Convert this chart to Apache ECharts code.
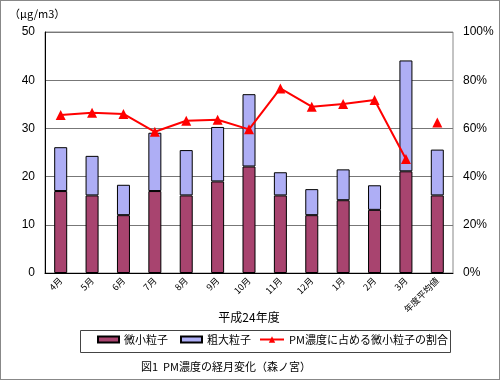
<!DOCTYPE html>
<html><head><meta charset="utf-8">
<script src="https://cdn.jsdelivr.net/npm/echarts@6/dist/echarts.min.js"></script>
<style>html,body{margin:0;padding:0;background:#fff}#c{width:500px;height:380px;box-sizing:border-box;border:1px solid #888}</style>
</head><body><div id="c"></div>
<script>
var categories = ['4月','5月','6月','7月','8月','9月','10月','11月','12月','1月','2月','3月','年度平均値'];
var fine = [17, 16.1, 12, 17, 16.1, 19, 22.1, 16.1, 12, 15.1, 13.1, 21.1, 16.1];
var total = [26.1, 24.3, 18.3, 29.1, 25.5, 30.3, 37.1, 20.9, 17.4, 21.5, 18.2, 44.1, 25.6];
var coarse = total.map(function(t,i){return +(t - fine[i]).toFixed(1);});
var ratioMonthly = [65.6, 66.5, 66.0, 58.6, 63.2, 63.6, 59.6, 76.6, 69.0, 70.1, 71.8, 47.3, '-'];
var ratioAvg = ['-','-','-','-','-','-','-','-','-','-','-','-', 62.5];
var leftTicks = {min:0, max:50, interval:10};
var rightTicks = {min:0, max:100, interval:20};
var seriesNames = ['微小粒子', '粗大粒子', 'PM濃度に占める微小粒子の割合'];

var F = '"Noto Sans CJK JP", "Liberation Sans", sans-serif';
var legendText = {fontSize:11, fontFamily:F, color:'#000'};
var chart = echarts.init(document.getElementById('c'));
chart.setOption({
  animation:false,
  textStyle:{fontFamily:F},
  grid:{left:44, right:46, top:31, bottom:106, show:true, borderColor:'#888', borderWidth:1},
  graphic:[
    {type:'text', left:8, top:7, style:{text:'（μg/m3）', font:'11px '+F, fill:'#000'}},
    {type:'text', left:140, top:360, style:{text:'図1  PM濃度の経月変化（森ノ宮）', font:'11px '+F, fill:'#000'}},
    {type:'rect', shape:{x:79.5, y:329.5, width:370, height:22}, style:{fill:'none', stroke:'#444', lineWidth:1}}
  ],
  legend:[
    {left:96, top:333, padding:0, itemWidth:21, itemHeight:6, textStyle:legendText,
     data:[{name:seriesNames[0], icon:'rect'}]},
    {left:179, top:333, padding:0, itemWidth:21, itemHeight:6, textStyle:legendText,
     data:[{name:seriesNames[1], icon:'rect'}]},
    {left:258, top:333, padding:0, itemWidth:24, itemHeight:8, textStyle:legendText,
     data:[{name:seriesNames[2]}]}
  ],
  xAxis:{
    type:'category', data:categories,
    name:'平成24年度', nameLocation:'middle', nameGap:38, nameMoveOverlap:false,
    nameTextStyle:{fontSize:12, color:'#000', fontFamily:F},
    axisLine:{lineStyle:{color:'#000'}},
    axisTick:{inside:true, length:3, lineStyle:{color:'#888'}},
    axisLabel:{rotate:45, fontSize:9, color:'#000', margin:6, interval:0}
  },
  yAxis:[
    {type:'value', min:leftTicks.min, max:leftTicks.max, interval:leftTicks.interval,
     axisLine:{show:true, lineStyle:{color:'#000'}}, axisTick:{show:false},
     axisLabel:{fontSize:12, color:'#000', margin:10, fontFamily:'"Liberation Sans", sans-serif'},
     splitLine:{lineStyle:{color:'#777'}}},
    {type:'value', min:rightTicks.min, max:rightTicks.max, interval:rightTicks.interval,
     axisLine:{show:false}, axisTick:{show:false}, splitLine:{show:false},
     axisLabel:{formatter:'{value}%', fontSize:12, color:'#000', margin:10, fontFamily:'"Liberation Sans", sans-serif'}}
  ],
  series:[
    {name:seriesNames[0], type:'bar', stack:'pm', data:fine, barWidth:13,
     itemStyle:{color:'#a8446f', borderColor:'#000', borderWidth:1}},
    {name:seriesNames[1], type:'bar', stack:'pm', data:coarse, barWidth:13,
     itemStyle:{color:'#aeaef5', borderColor:'#000', borderWidth:1}},
    {name:seriesNames[2], type:'line', yAxisIndex:1, data:ratioMonthly,
     symbol:'triangle', symbolSize:10, itemStyle:{color:'#ff0000'}, lineStyle:{color:'#ff0000', width:2}, z:5},
    {name:seriesNames[2], type:'line', yAxisIndex:1, data:ratioAvg,
     symbol:'triangle', symbolSize:10, showAllSymbol:true, itemStyle:{color:'#ff0000'}, lineStyle:{color:'#ff0000', width:2}, z:5}
  ]
});
</script></body></html>
